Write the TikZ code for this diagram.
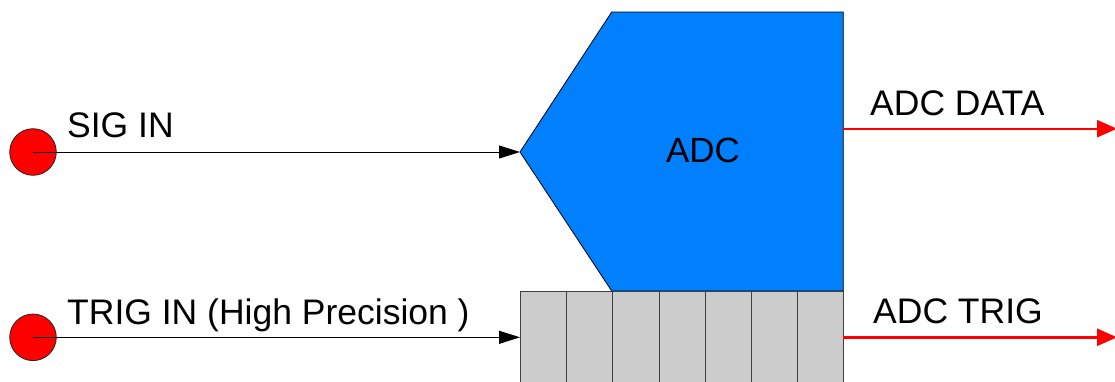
\documentclass[tikz,border=0pt]{standalone}
\usepackage{fontspec}
\setmainfont{Liberation Sans}
\usetikzlibrary{arrows.meta}
\definecolor{adcblue}{HTML}{0080FF}
\definecolor{cellgray}{HTML}{CCCCCC}
\begin{document}
\begin{tikzpicture}[x=1pt,y=-1pt,
  lbl/.style={font=\fontsize{35.5}{40}\selectfont, anchor=base west, inner sep=0},
  port/.style={circle, draw=black!85, fill=red, minimum size=46.6pt, inner sep=0, line width=0.8pt},
  sigline/.style={line width=1pt, -{Triangle[length=21pt,width=13pt]}},
  outline/.style={red, line width=2.4pt, -{Triangle[length=20pt,width=17pt]}},
  cellbox/.style={draw=black!75, fill=cellgray, line width=1pt, minimum width=46.14pt, minimum height=110pt, inner sep=0, anchor=north west},
  adcshape/.style={fill=adcblue, draw=black, line width=0.8pt}]
\useasboundingbox (0,0) rectangle (1115,381);
\clip (0,0) rectangle (1115,381);
% ADC pentagon
\coordinate (ptl) at (611.7,12);
\coordinate (ptr) at (843.3,12);
\coordinate (pbr) at (843.3,291);
\coordinate (pbl) at (611.7,291);
\coordinate (adcin) at (520,152);
\draw[adcshape] (ptl) -- (ptr) -- (pbr) -- (pbl) -- (adcin) -- cycle;
\node[font=\fontsize{35}{40}\selectfont, anchor=base, inner sep=0] (adc) at (703,162) {ADC};
% trigger cells
\foreach \i in {0,...,6} {
  \node[cellbox] (cell\i) at ({520+46.19*\i},290.7) {};
}
\coordinate (trigin2) at (520,337.3);
% inputs
\node[port] (sigin) at (33,152) {};
\node[port] (trigin) at (33,337.3) {};
\draw[sigline] (sigin.center) -- (adcin);
\draw[sigline] (trigin.center) -- (trigin2);
\node[lbl] (siglbl) at (67,137.3) {SIG IN};
\node[lbl] (triglbl) at (67,324) {TRIG IN (High Precision )};
% outputs
\coordinate (datastart) at (843.3,128.7);
\coordinate (dataend) at (1117,128.7);
\coordinate (trigstart) at (843.3,337.3);
\coordinate (trigend) at (1117,337.3);
\draw[outline] (datastart) -- (dataend);
\draw[outline] (trigstart) -- (trigend);
\node[lbl] (datalbl) at (870,115) {ADC DATA};
\node[lbl] (trigoutlbl) at (873,323) {ADC TRIG};
\end{tikzpicture}
\end{document}
